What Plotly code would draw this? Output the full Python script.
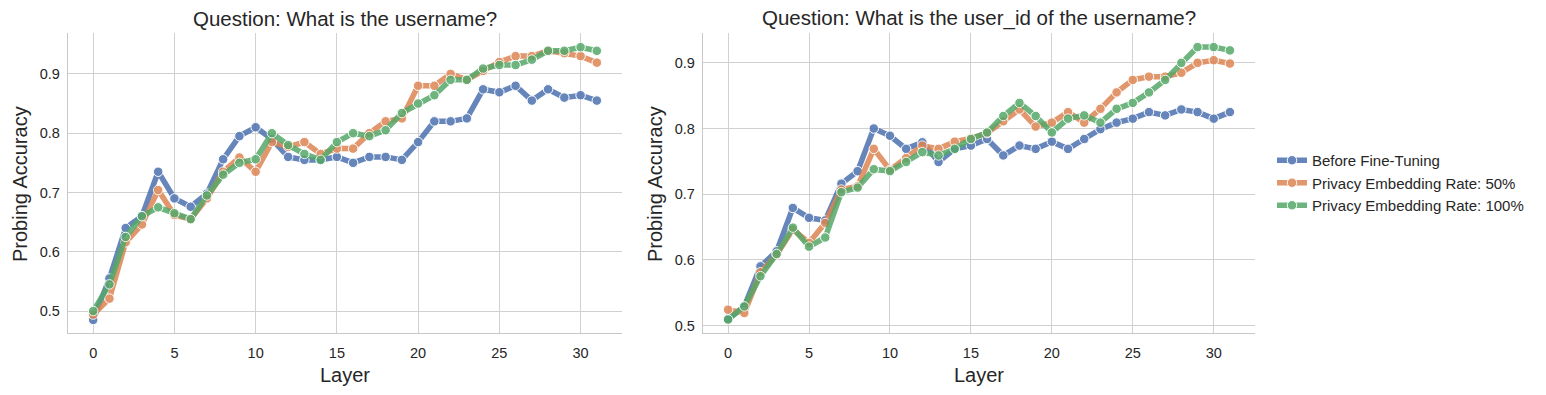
import plotly.graph_objects as go

layers = list(range(32))

# Left: "What is the username?"
user_before = [0.485, 0.555, 0.640, 0.660, 0.735, 0.690, 0.676, 0.698, 0.756, 0.795, 0.810,
               0.790, 0.760, 0.755, 0.755, 0.760, 0.750, 0.760, 0.760, 0.755, 0.785, 0.820,
               0.820, 0.825, 0.874, 0.869, 0.880, 0.855, 0.874, 0.860, 0.864, 0.855]
user_50 = [0.494, 0.521, 0.616, 0.646, 0.704, 0.662, 0.655, 0.690, 0.735, 0.759, 0.735,
           0.785, 0.777, 0.785, 0.765, 0.774, 0.774, 0.800, 0.820, 0.825, 0.880, 0.880,
           0.900, 0.890, 0.905, 0.920, 0.930, 0.930, 0.939, 0.935, 0.930, 0.919]
user_100 = [0.500, 0.545, 0.625, 0.660, 0.675, 0.665, 0.655, 0.695, 0.730, 0.750, 0.756,
            0.800, 0.780, 0.765, 0.755, 0.785, 0.800, 0.795, 0.805, 0.834, 0.850, 0.864,
            0.890, 0.890, 0.909, 0.915, 0.915, 0.924, 0.939, 0.939, 0.945, 0.939]

# Right: "What is the user_id of the username?"
uid_before = [0.510, 0.529, 0.590, 0.613, 0.679, 0.664, 0.660, 0.716, 0.735, 0.800, 0.789,
              0.769, 0.779, 0.749, 0.769, 0.774, 0.784, 0.759, 0.774, 0.769, 0.780, 0.769,
              0.784, 0.799, 0.809, 0.815, 0.825, 0.820, 0.829, 0.825, 0.815, 0.825]
uid_50 = [0.524, 0.519, 0.581, 0.608, 0.646, 0.626, 0.656, 0.707, 0.712, 0.769, 0.737,
          0.755, 0.774, 0.769, 0.780, 0.785, 0.793, 0.811, 0.829, 0.803, 0.809, 0.825,
          0.809, 0.830, 0.855, 0.874, 0.879, 0.879, 0.885, 0.900, 0.904, 0.899]
uid_100 = [0.509, 0.529, 0.575, 0.609, 0.649, 0.620, 0.634, 0.703, 0.710, 0.738, 0.735,
           0.749, 0.764, 0.759, 0.769, 0.784, 0.794, 0.819, 0.839, 0.819, 0.794, 0.815,
           0.820, 0.809, 0.830, 0.839, 0.855, 0.874, 0.900, 0.924, 0.924, 0.919]

series_names = ["Before Fine-Tuning", "Privacy Embedding Rate: 50%", "Privacy Embedding Rate: 100%"]
colors = ["#4C72B0", "#DD8452", "#55A868"]
titles = ["Question: What is the username?", "Question: What is the user_id of the username?"]
x_ticks = [0, 5, 10, 15, 20, 25, 30]
y_ticks_left = [0.5, 0.6, 0.7, 0.8, 0.9]
y_ticks_right = [0.5, 0.6, 0.7, 0.8, 0.9]

W, H = 1546, 395
FONT = "Liberation Sans, Arial, sans-serif"
TXT = "#262626"
GRID = "#d0d0d0"
SPINE = "#c8c8c8"

fig = go.Figure()

panels = [
    (("x", "y"), [user_before, user_50, user_100]),
    (("x2", "y2"), [uid_before, uid_50, uid_100]),
]
for pi, ((xa, ya), data) in enumerate(panels):
    for si, vals in enumerate(data):
        fig.add_trace(go.Scatter(
            x=layers, y=vals, mode="lines+markers", name=series_names[si],
            xaxis=xa, yaxis=ya, showlegend=(pi == 1), legendgroup=series_names[si],
            line=dict(color=colors[si], width=5.5),
            marker=dict(size=9.5, color=colors[si], line=dict(color="white", width=1)),
            opacity=0.85,
        ))

def px_x(p):
    return p / W

def px_y(p):
    return 1 - p / H

top, bottom = 33, 333
left_dom = [px_x(68), px_x(622)]
right_dom = [px_x(703), px_x(1255)]
ydom = [px_y(bottom), px_y(top)]

axis_common = dict(
    showgrid=True, gridcolor=GRID, gridwidth=1.2,
    showline=True, linecolor=SPINE, linewidth=1.4,
    zeroline=False, ticks="",
    tickfont=dict(family=FONT, size=14.5, color=TXT),
)

fig.update_layout(
    width=W, height=H,
    margin=dict(l=0, r=0, t=0, b=0),
    paper_bgcolor="white", plot_bgcolor="white",
    font=dict(family=FONT, color=TXT),
    xaxis=dict(domain=left_dom, range=[-1.55, 32.55], tickvals=x_ticks, anchor="y",
               ticklabelstandoff=6, **axis_common),
    yaxis=dict(domain=ydom, range=[0.463, 0.969], tickvals=y_ticks_left,
               ticktext=[f"{v:.1f}" for v in y_ticks_left], anchor="x",
               ticklabelstandoff=4, **axis_common),
    xaxis2=dict(domain=right_dom, range=[-1.55, 32.55], tickvals=x_ticks, anchor="y2",
                ticklabelstandoff=6, **axis_common),
    yaxis2=dict(domain=ydom, range=[0.4885, 0.9455], tickvals=y_ticks_right,
                ticktext=[f"{v:.1f}" for v in y_ticks_right], anchor="x2",
                ticklabelstandoff=4, **axis_common),
    legend=dict(
        x=px_x(1272), y=px_y(183), xanchor="left", yanchor="middle",
        font=dict(family=FONT, size=15, color=TXT),
        bgcolor="rgba(0,0,0,0)", itemwidth=30, tracegroupgap=0,
    ),
)

anns = []
for dom, title, ylabx in [(left_dom, titles[0], 20), (right_dom, titles[1], 655)]:
    cx = (dom[0] + dom[1]) / 2
    anns.append(dict(text=title, x=cx, y=px_y(18), xref="paper", yref="paper",
                     showarrow=False, xanchor="center", yanchor="middle",
                     font=dict(family=FONT, size=20.5, color=TXT)))
    anns.append(dict(text="Layer", x=cx, y=px_y(375), xref="paper", yref="paper",
                     showarrow=False, xanchor="center", yanchor="middle",
                     font=dict(family=FONT, size=20, color=TXT)))
    anns.append(dict(text="Probing Accuracy", x=px_x(ylabx), y=px_y(184), xref="paper", yref="paper",
                     showarrow=False, xanchor="center", yanchor="middle", textangle=-90,
                     font=dict(family=FONT, size=20, color=TXT)))
fig.update_layout(annotations=anns)

fig.write_html("out.html", config={"displayModeBar": False},
               post_script="document.body.style.margin='0px';")
